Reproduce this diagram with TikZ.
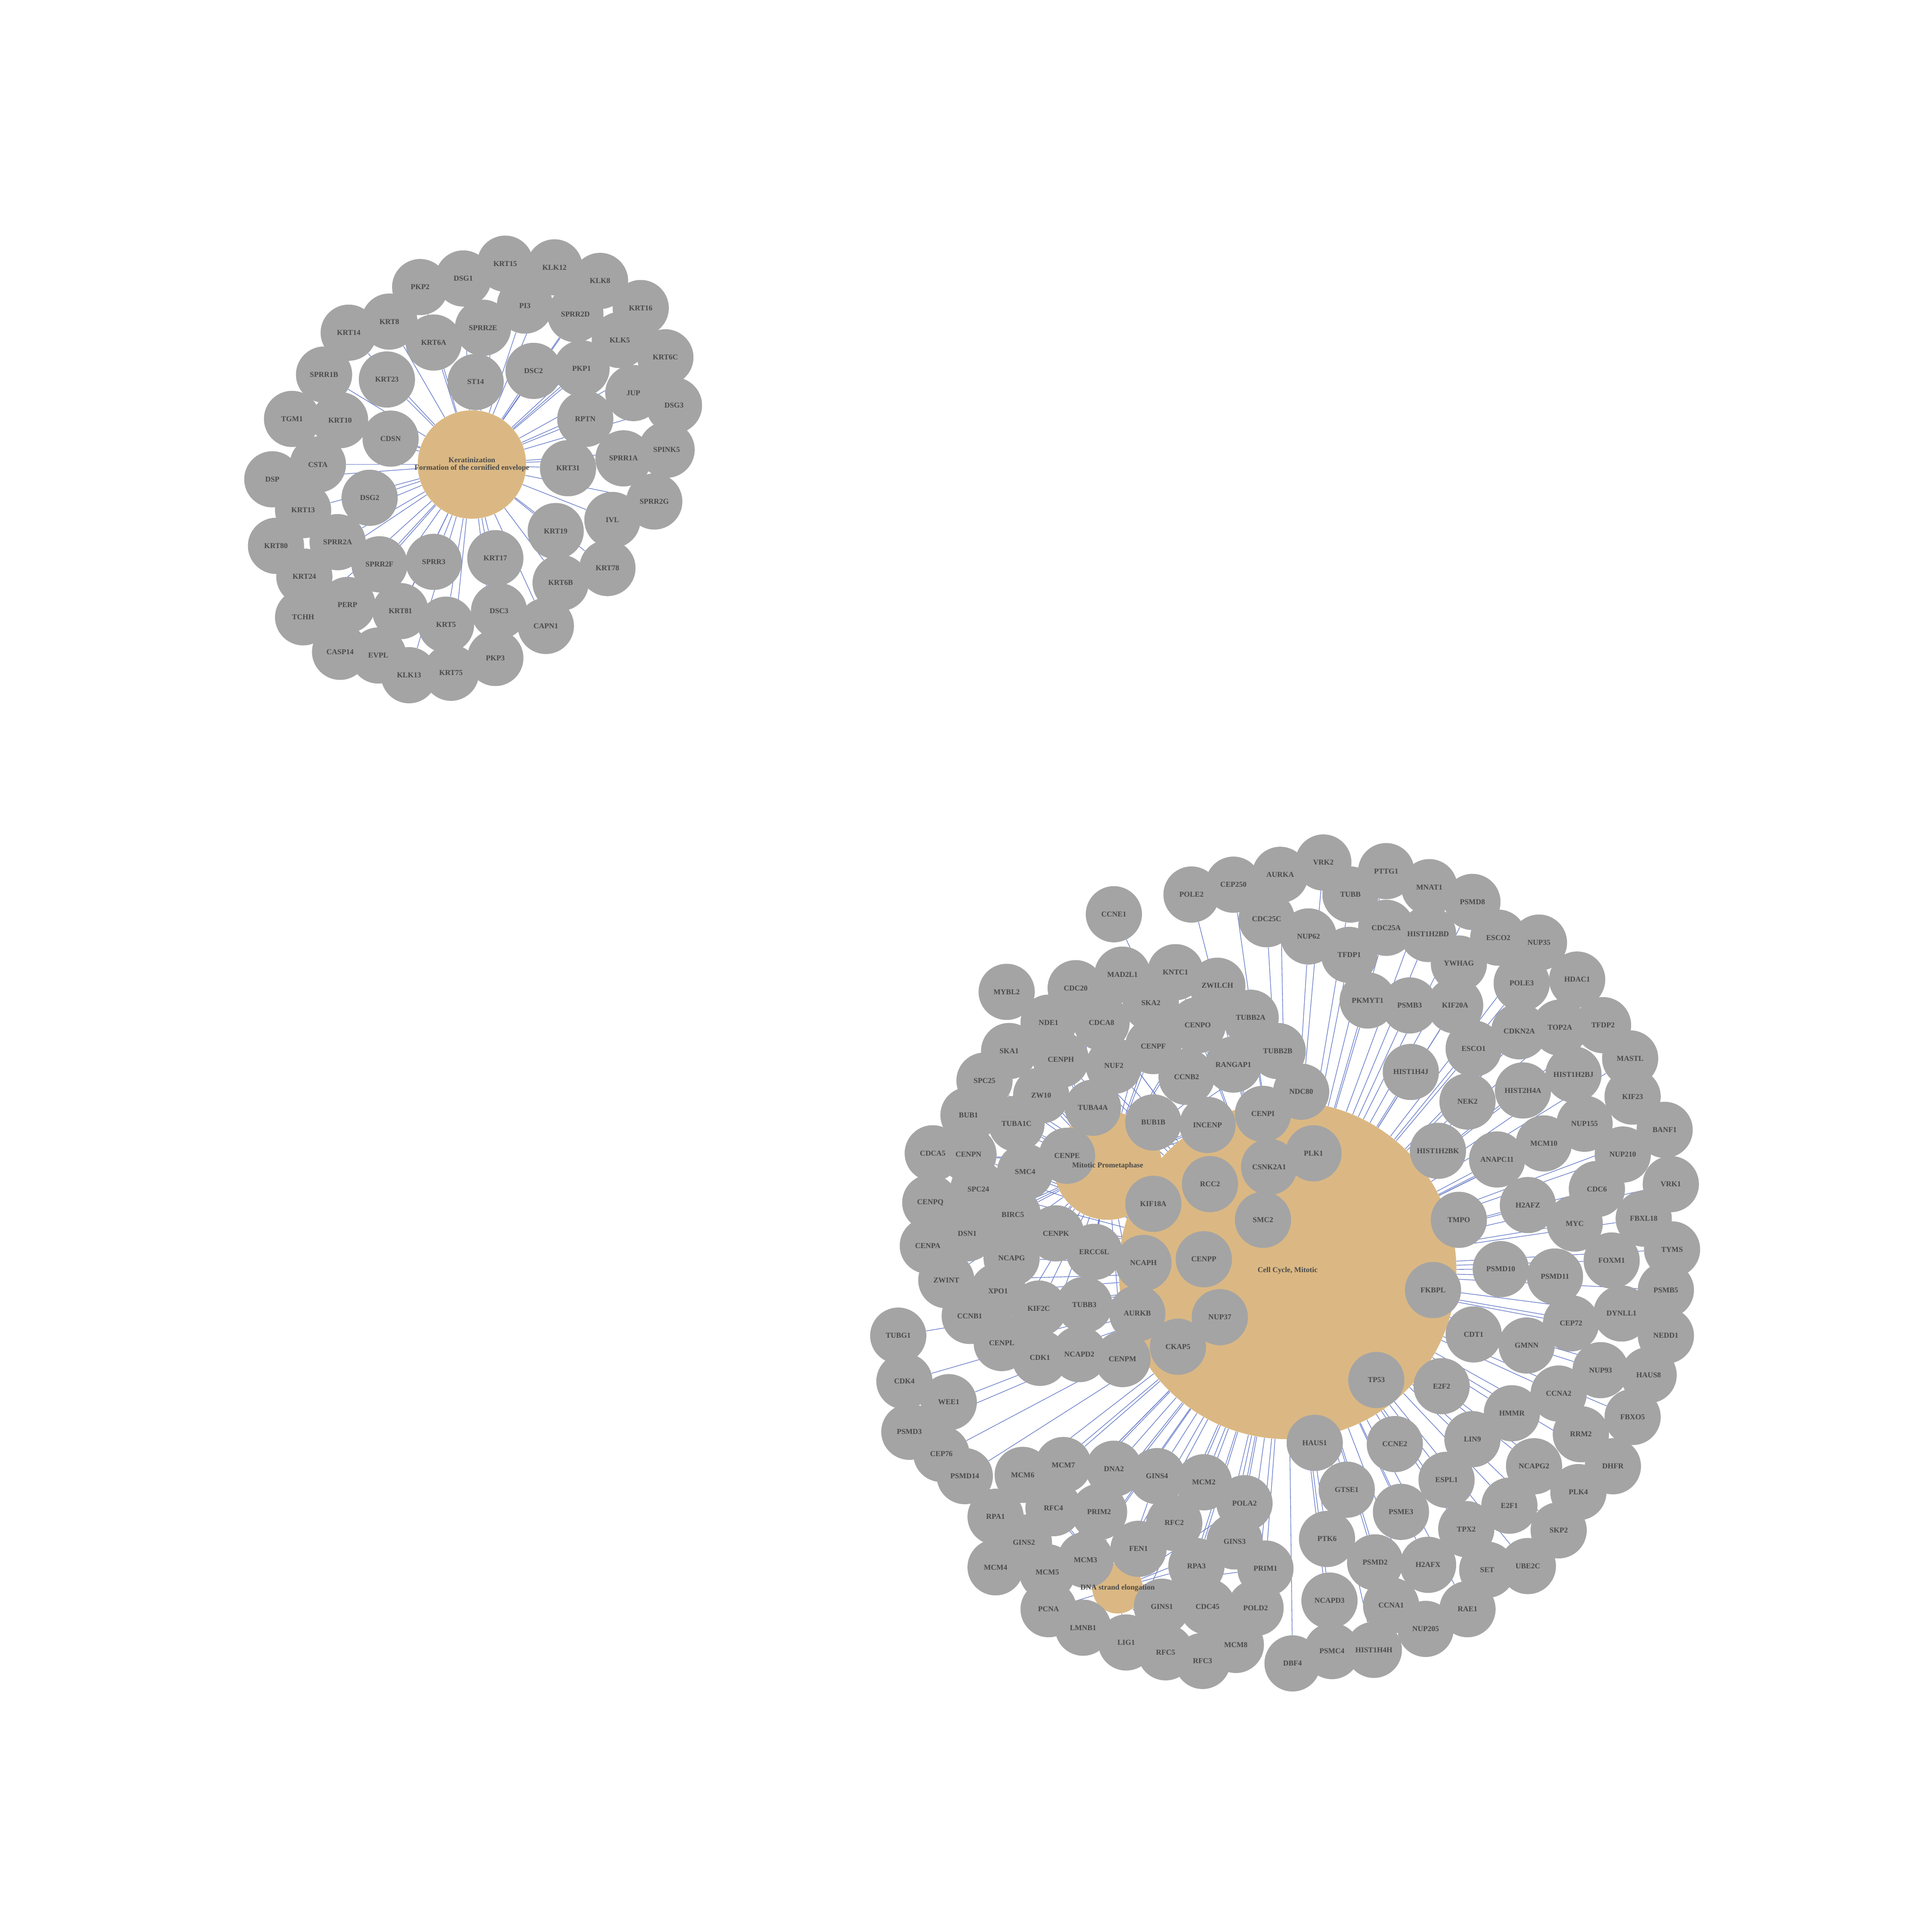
\documentclass[tikz,border=0pt]{standalone}
\usepackage{tikz}
\usepackage{fontspec}
\setmainfont{Liberation Serif}
\definecolor{nodegray}{RGB}{164,164,164}
\definecolor{termtan}{RGB}{219,184,131}
\definecolor{txtgray}{RGB}{74,74,74}
\definecolor{edgeblue}{RGB}{102,122,200}
\pgfdeclarelayer{edgelayer}
\pgfdeclarelayer{termlayer}
\pgfdeclarelayer{circlelayer}
\pgfsetlayers{edgelayer,termlayer,circlelayer,main}
\newcommand{\genefont}{\fontsize{6.1}{6.3}\selectfont\bfseries}
\def\keralist{KRT15/410/214, KLK12/450/217, DSG1/376/226, PKP2/341/233, KLK8/487/228, KRT16/520/250, PI3/426/248, SPRR2D/467/255, KRT8/316/261, SPRR2E/392/266, KRT14/283/270, KRT6A/352/278, KLK5/503/276, KRT6C/540/290, PKP1/472/299, DSC2/433/301, SPRR1B/263/304, KRT23/314/308, ST14/386/310, JUP/514/319, DSG3/547/329, TGM1/237/340, KRT10/276/341, RPTN/475/340, CDSN/317/356, SPINK5/541/365, SPRR1A/506/372, CSTA/258/377, KRT31/461/380, DSP/221/389, DSG2/300/404, SPRR2G/531/407, KRT13/246/414, IVL/497/422, KRT19/451/431, KRT80/224/443, SPRR2A/274/440, KRT17/402/453, SPRR3/352/456, SPRR2F/308/458, KRT78/493/461, KRT24/247/468, KRT6B/455/473, PERP/282/491, KRT81/325/496, DSC3/405/496, TCHH/246/501, KRT5/362/507, CAPN1/443/508, CASP14/276/529, EVPL/307/532, PKP3/402/534, KLK13/332/548, KRT75/366/546}
\def\cclist{CCNE1/904/742, POLE2/967/726, CEP250/1001/718, AURKA/1039/710, VRK2/1074/700, TUBB/1096/726, PTTG1/1125/707, MNAT1/1160/720, PSMD8/1195/732, CDC25C/1028/746, NUP62/1062/760, CDC25A/1125/753, HIST1H2BD/1159/758, TFDP1/1095/775, ESCO2/1216/761, NUP35/1249/765, MAD2L1/911/791, KNTC1/954/789, ZWILCH/988/800, YWHAG/1184/782, HDAC1/1280/795, MYBL2/817/805, CDC20/873/802, POLE3/1235/798, PKMYT1/1110/812, PSMB3/1144/816, KIF20A/1181/816, SKA2/934/814, TUBB2A/1015/826, CDCA8/894/830, NDE1/851/830, CENPO/972/832, TOP2A/1266/834, TFDP2/1301/832, CDKN2A/1233/837, CENPF/936/849, ESCO1/1196/851, SKA1/819/853, CENPH/861/860, TUBB2B/1037/853, RANGAP1/1001/864, MASTL/1323/859, NUF2/904/865, HIST1H4J/1145/870, HIST1H2BJ/1277/872, CCNB2/963/874, SPC25/799/877, ZW10/845/889, NDC80/1056/886, HIST2H4A/1236/885, KIF23/1325/890, NEK2/1191/894, TUBA4A/887/899, BUB1/786/905, BUB1B/936/911, INCENP/980/913, CENPI/1025/904, NUP155/1286/912, BANF1/1351/917, TUBA1C/825/912, MCM10/1253/928, CDCA5/757/936, CENPN/786/937, CENPE/866/938, PLK1/1066/936, HIST1H2BK/1167/934, ANAPC11/1215/941, NUP210/1317/937, SMC4/832/951, CSNK2A1/1030/947, CDC6/1296/965, VRK1/1356/961, SPC24/794/965, RCC2/982/961, CENPQ/755/976, KIF18A/936/977, H2AFZ/1240/978, BIRC5/822/986, FBXL18/1334/989, TMPO/1184/990, MYC/1278/993, SMC2/1025/990, DSN1/785/1001, CENPK/857/1001, TYMS/1357/1014, CENPA/753/1011, ERCC6L/888/1016, NCAPG/821/1021, CENPP/977/1022, FOXM1/1308/1023, PSMD10/1218/1030, NCAPH/928/1025, PSMD11/1262/1036, ZWINT/768/1039, FKBPL/1163/1047, PSMB5/1352/1047, XPO1/810/1048, TUBB3/880/1059, KIF2C/843/1062, NUP37/990/1069, DYNLL1/1316/1066, AURKB/923/1066, CCNB1/787/1068, CEP72/1275/1074, CDT1/1196/1083, TUBG1/729/1084, NEDD1/1352/1084, GMNN/1239/1092, CENPL/813/1090, CKAP5/956/1093, NCAPD2/876/1099, CDK1/844/1102, CENPM/911/1103, NUP93/1299/1112, HAUS8/1338/1116, CDK4/734/1121, TP53/1117/1120, E2F2/1170/1125, WEE1/770/1138, HMMR/1227/1147, CCNA2/1265/1131, FBXO5/1325/1150, PSMD3/738/1162, HAUS1/1067/1171, CCNE2/1132/1172, LIN9/1195/1168, RRM2/1283/1164, CEP76/764/1180, PSMD14/783/1198, MCM6/830/1197, MCM7/863/1189, DNA2/904/1192, GINS4/939/1198, MCM2/977/1203, DHFR/1309/1190, NCAPG2/1245/1190, ESPL1/1174/1201, GTSE1/1093/1209, POLA2/1010/1220, PLK4/1281/1211, RFC4/855/1224, PRIM2/892/1227, E2F1/1225/1222, PSME3/1137/1227, RPA1/808/1231, RFC2/953/1236, TPX2/1190/1241, SKP2/1265/1242, GINS3/1002/1251, GINS2/831/1252, PTK6/1077/1249, FEN1/924/1257, MCM3/881/1266, PSMD2/1116/1268, H2AFX/1159/1270, MCM4/808/1272, RPA3/971/1271, PRIM1/1027/1273, SET/1207/1274, UBE2C/1240/1271, MCM5/850/1276, NCAPD3/1079/1299, CCNA1/1129/1303, GINS1/943/1304, CDC45/980/1304, POLD2/1019/1305, PCNA/851/1306, RAE1/1191/1306, LMNB1/879/1321, NUP205/1157/1322, LIG1/914/1333, MCM8/1003/1335, RFC5/946/1341, RFC3/976/1348, PSMC4/1081/1340, HIST1H4H/1115/1339, DBF4/1049/1350}
\def\mplist{BUB1, BUB1B, CDCA5, CDCA8, CENPA, CENPE, CENPF, CENPH, CENPI, CENPK, CENPL, CENPM, CENPN, CENPO, CENPP, CENPQ, CKAP5, DSN1, ERCC6L, INCENP, KIF18A, KIF2C, KNTC1, MAD2L1, NDC80, NDE1, NUF2, NUP37, PLK1, RANGAP1, SKA1, SKA2, SPC24, SPC25, ZW10, ZWILCH, ZWINT, BIRC5, AURKB, CCNB1, CCNB2, CDK1, CDC20, NCAPG, NCAPH, NCAPD2, SMC2, SMC4, CSNK2A1, TUBA1C, TUBA4A, TUBB2A, TUBB2B, TUBB3, XPO1, RCC2}
\def\dselist{MCM2, MCM3, MCM4, MCM5, MCM6, MCM7, MCM8, GINS1, GINS2, GINS3, GINS4, CDC45, PCNA, POLA2, PRIM1, PRIM2, POLD2, RPA1, RPA3, RFC2, RFC3, RFC4, RFC5, FEN1, LIG1, DNA2}
\begin{document}
\begin{tikzpicture}[x=1pt,y=-1pt,
  genecirc/.style={circle, fill=nodegray, minimum size=45.6pt, inner sep=0pt},
  genetext/.style={font=\genefont, text=txtgray, inner sep=0pt, align=center},
  term/.style={circle, fill=termtan, inner sep=0pt},
  link/.style={draw=edgeblue, line width=0.5pt}]
\path[use as bounding box] (0,0) rectangle (1568,1568);
% term circles
\begin{pgfonlayer}{termlayer}
  \node[term, minimum size=88pt] (kera) at (383,377) {};
  \node[term, minimum size=274pt] (cc) at (1045,1031) {};
  \node[term, minimum size=88pt] (mp) at (899,946) {};
  \node[term, minimum size=41pt] (dse) at (907,1289) {};
\end{pgfonlayer}
% gene circles
\begin{pgfonlayer}{circlelayer}
  \foreach \n/\x/\y in \keralist {\node[genecirc] (\n) at (\x,\y) {};}
  \foreach \n/\x/\y in \cclist {\node[genecirc] (\n) at (\x,\y) {};}
\end{pgfonlayer}
% gene labels
\foreach \n/\x/\y in \keralist {\node[genetext] (t\n) at (\n.center) {\n};}
\foreach \n/\x/\y in \cclist {\node[genetext] (t\n) at (\n.center) {\n};}
% term labels
\node[genetext] (tkera) at (kera.center) {Keratinization\\Formation of the cornified envelope};
\node[genetext] (tcc) at (cc.center) {Cell Cycle, Mitotic};
\node[genetext] (tmp) at (mp.center) {Mitotic Prometaphase};
\node[genetext] (tdse) at (dse.center) {DNA strand elongation};
% connectors
\begin{pgfonlayer}{edgelayer}
  \foreach \n/\x/\y in \keralist {\draw[link] (kera) -- (\n);}
  \foreach \n/\x/\y in \cclist {\draw[link] (cc) -- (\n);}
  \foreach \n in \mplist {\draw[link] (mp) -- (\n);}
  \foreach \n in \dselist {\draw[link] (dse) -- (\n);}
\end{pgfonlayer}
\end{tikzpicture}
\end{document}
